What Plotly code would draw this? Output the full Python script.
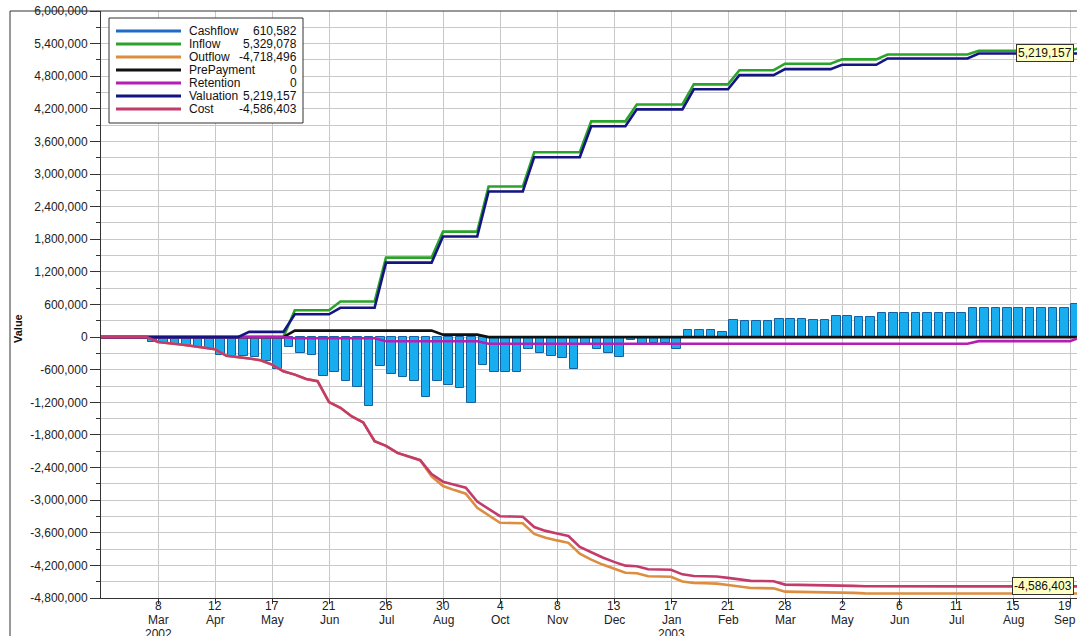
import pandas as pd
import plotly.graph_objects as go

# ---------------- data (weekly, Fridays) ----------------
line_start = "2002-02-01"          # first weekly point of the line series
bar_start = "2002-03-01"           # first weekly cash-flow bar (period start)

inflow = [
    0, 0, 0, 0, 0, 0, 0, 0, 0, 0, 0, 0, 0, 0, 0, 0, 0,
    495000, 495000, 495000, 495000,
    655000, 655000, 655000, 655000,
    1463000, 1463000, 1463000, 1463000, 1463000,
    1940000, 1940000, 1940000, 1940000,
    2770000, 2770000, 2770000, 2770000,
    3400000, 3400000, 3400000, 3400000, 3400000,
    3970000, 3970000, 3970000, 3970000,
    4280000, 4280000, 4280000, 4280000, 4280000,
    4650000, 4650000, 4650000, 4650000,
    4910000, 4910000, 4910000, 4910000,
    5030000, 5030000, 5030000, 5030000, 5030000,
    5110000, 5110000, 5110000, 5110000,
    5200000, 5200000, 5200000, 5200000, 5200000, 5200000, 5200000, 5200000,
    5268000, 5268000, 5268000, 5268000, 5268000, 5268000, 5268000, 5268000, 5268000,
    5329078,
]

valuation = [
    0, 0, 0, 0, 0, 0, 0, 0, 0, 0, 0, 0, 0,
    96000, 96000, 96000, 96000,
    420000, 420000, 420000, 420000,
    540000, 540000, 540000, 540000,
    1370000, 1370000, 1370000, 1370000, 1370000,
    1850000, 1850000, 1850000, 1850000,
    2680000, 2680000, 2680000, 2680000,
    3310000, 3310000, 3310000, 3310000, 3310000,
    3880000, 3880000, 3880000, 3880000,
    4190000, 4190000, 4190000, 4190000, 4190000,
    4560000, 4560000, 4560000, 4560000,
    4820000, 4820000, 4820000, 4820000,
    4930000, 4930000, 4930000, 4930000, 4930000,
    5010000, 5010000, 5010000, 5010000,
    5127000, 5127000, 5127000, 5127000, 5127000, 5127000, 5127000, 5127000,
    5219157, 5219157, 5219157, 5219157, 5219157, 5219157, 5219157, 5219157, 5219157,
    5219157,
]

prepayment = [
    0, 0, 0, 0, 0, 0, 0, 0, 0, 0, 0, 0, 0, 0, 0, 0, 0,
    120000, 120000, 120000, 120000, 120000, 120000, 120000, 120000, 120000,
    120000, 120000, 120000, 120000,
    46000, 46000, 46000, 46000,
    0, 0, 0, 0, 0, 0, 0, 0, 0, 0, 0, 0, 0, 0, 0, 0, 0, 0, 0, 0,
    0, 0, 0, 0, 0, 0, 0, 0, 0, 0, 0, 0, 0, 0, 0, 0, 0, 0, 0, 0,
    0, 0, 0, 0, 0, 0, 0, 0, 0, 0, 0, 0, 0,
]

retention = [
    0, 0, 0, 0, 0, 0, 0, 0, 0, 0, 0, 0, 0, 0, 0, 0, 0,
    -20000, -20000, -20000, -20000, -20000, -20000, -20000, -20000,
    -75000, -75000, -75000, -75000, -75000, -75000, -75000, -75000, -75000,
    -122000, -122000, -122000, -122000, -122000, -122000, -122000, -122000,
    -122000, -122000, -122000, -122000, -122000, -122000, -122000, -122000,
    -122000, -122000, -122000, -122000, -122000, -122000, -122000, -122000,
    -122000, -122000, -122000, -122000, -122000, -122000, -122000, -122000,
    -122000, -122000, -122000, -122000, -122000, -122000, -122000, -122000,
    -122000, -122000, -122000,
    -74000, -74000, -74000, -74000, -74000, -74000, -74000, -74000, -74000,
    0,
]

outflow = [
    0, 0, 0, 0, 0,
    -90000, -108000, -135000, -165000, -200000, -222000, -345000, -365000,
    -395000, -425000, -505000, -630000, -690000, -770000, -810000, -1195000,
    -1300000, -1460000, -1570000, -1915000, -2000000, -2130000, -2195000,
    -2265000, -2560000, -2740000, -2815000, -2880000, -3140000, -3280000,
    -3415000, -3420000, -3425000, -3620000, -3690000, -3740000, -3785000,
    -3985000, -4095000, -4185000, -4265000, -4335000, -4345000, -4400000,
    -4405000, -4410000, -4495000, -4525000, -4530000, -4535000, -4560000,
    -4590000, -4615000, -4618000, -4622000, -4683000, -4685000, -4688000,
    -4700000, -4702000, -4704000, -4706000, -4714000, -4716000, -4717000,
    -4718000, -4718000, -4718000, -4718000, -4718000, -4718000, -4718000,
    -4718000, -4718000, -4718000, -4718000, -4718000, -4718000, -4718000,
    -4718000, -4718000,
    -4718496,
]

cost = [
    0, 0, 0, 0, 0,
    -90000, -108000, -135000, -165000, -200000, -222000, -345000, -365000,
    -395000, -425000, -505000, -630000, -690000, -770000, -810000, -1195000,
    -1300000, -1460000, -1570000, -1915000, -2000000, -2130000, -2195000,
    -2265000, -2520000, -2660000, -2715000, -2770000, -3025000, -3160000,
    -3295000, -3300000, -3305000, -3495000, -3565000, -3615000, -3660000,
    -3860000, -3965000, -4055000, -4135000, -4205000, -4215000, -4270000,
    -4275000, -4280000, -4365000, -4395000, -4400000, -4405000, -4430000,
    -4460000, -4485000, -4488000, -4492000, -4553000, -4555000, -4558000,
    -4570000, -4572000, -4574000, -4576000, -4583000, -4585000, -4586000,
    -4586403, -4586403, -4586403, -4586403, -4586403, -4586403, -4586403,
    -4586403, -4586403, -4586403, -4586403, -4586403, -4586403, -4586403,
    -4586403, -4586403,
    -4586403,
]

cashflow = [
    -95000, -107000, -125000, -150000, -190000, -210000, -338000, -340000,
    -353000, -372000, -445000, -590000, -190000, -291000, -322000, -721000,
    -650000, -813000, -920000, -1273000, -537000, -675000, -740000, -805000,
    -1110000, -805000, -880000, -940000, -1205000, -506000, -647000, -647000,
    -647000, -218000, -291000, -340000, -383000, -595000, -123000, -215000,
    -294000, -368000, -61000, -123000, -110000, -110000, -215000, 123000,
    123000, 123000, 92000, 319000, 294000, 294000, 288000, 337000, 337000,
    337000, 319000, 319000, 387000, 387000, 368000, 368000,
    448000, 448000, 448000, 448000, 448000, 448000, 448000, 448000,
    540000, 540000, 540000, 540000, 540000, 540000, 540000, 540000, 540000,
    610582,
]

x_tick_dates = ["2002-03-08", "2002-04-12", "2002-05-17", "2002-06-21", "2002-07-26",
                "2002-08-30", "2002-10-04", "2002-11-08", "2002-12-13", "2003-01-17",
                "2003-02-21", "2003-03-28", "2003-05-02", "2003-06-06", "2003-07-11",
                "2003-08-15", "2003-09-19"]
x_tick_days = ["8", "12", "17", "21", "26", "30", "4", "8", "13", "17",
               "21", "28", "2", "6", "11", "15", "19"]
x_tick_months = ["Mar", "Apr", "May", "Jun", "Jul", "Aug", "Oct", "Nov", "Dec", "Jan",
                 "Feb", "Mar", "May", "Jun", "Jul", "Aug", "Sep"]
x_tick_years = ["2002", "", "", "", "", "", "", "", "", "2003",
                "", "", "", "", "", "", ""]
y_tick_values = [6000000, 5400000, 4800000, 4200000, 3600000, 3000000, 2400000,
                 1800000, 1200000, 600000, 0, -600000, -1200000, -1800000,
                 -2400000, -3000000, -3600000, -4200000, -4800000]
y_tick_labels = ["6,000,000", "5,400,000", "4,800,000", "4,200,000", "3,600,000",
                 "3,000,000", "2,400,000", "1,800,000", "1,200,000", "600,000", "0",
                 "-600,000", "-1,200,000", "-1,800,000", "-2,400,000", "-3,000,000",
                 "-3,600,000", "-4,200,000", "-4,800,000"]
y_minor_values = [5700000, 5100000, 4500000, 3900000, 3300000, 2700000, 2100000,
                  1500000, 900000, 300000, -300000, -900000, -1500000, -2100000,
                  -2700000, -3300000, -3900000, -4500000]

# ---------------- styling ----------------
FONT = "Liberation Sans, Arial, Helvetica, sans-serif"
W, H = 1077, 636
L, R, T, B = 101, 0, 11, 38
PW, PH = W - L - R, H - T - B

def px(xp):
    return (xp - L) / PW

def py(yp):
    return 1 - (yp - T) / PH

line_dates = pd.date_range(line_start, periods=len(inflow), freq="7D")
bar_dates = pd.date_range(bar_start, periods=len(cashflow), freq="7D")

series = [
    ("Cashflow", None, "#1F6BC6", cashflow[-1]),
    ("Inflow", inflow, "#2BA32B", inflow[-1]),
    ("Outflow", outflow, "#DC8D3F", outflow[-1]),
    ("PrePayment", prepayment, "#111111", prepayment[-1]),
    ("Retention", retention, "#B51DB5", retention[-1]),
    ("Valuation", valuation, "#141482", valuation[-1]),
    ("Cost", cost, "#C23B6B", cost[-1]),
]

fig = go.Figure()
DAY = 86400000
fig.add_trace(go.Bar(
    x=bar_dates, y=cashflow, name="Cashflow",
    xperiod=7 * DAY, xperiod0=bar_start, xperiodalignment="middle",
    width=5.2 * DAY,
    marker=dict(color="#18ADEE", line=dict(color="#15609E", width=1)),
    showlegend=False,
))
for name, vals, color, _ in series:
    if vals is None:
        continue
    fig.add_trace(go.Scatter(
        x=line_dates, y=vals, name=name, mode="lines",
        line=dict(color=color, width=2.6), showlegend=False,
    ))

shapes = []
annotations = []

# outer chart frame
shapes.append(dict(type="rect", xref="paper", yref="paper",
                   x0=px(10), x1=px(1200), y0=py(11), y1=py(800),
                   line=dict(color="#333333", width=1), fillcolor="rgba(0,0,0,0)",
                   layer="above"))

# custom legend box
shapes.append(dict(type="rect", xref="paper", yref="paper",
                   x0=px(109), x1=px(303), y0=py(18), y1=py(123),
                   line=dict(color="#333333", width=1), fillcolor="white",
                   layer="above"))
for i, (name, vals, color, last) in enumerate(series):
    yy = 31 + 13 * i
    shapes.append(dict(type="line", xref="paper", yref="paper",
                       x0=px(116), x1=px(181), y0=py(yy), y1=py(yy),
                       line=dict(color=color, width=3), layer="above"))
    annotations.append(dict(xref="paper", yref="paper", x=px(187), y=py(yy),
                            xanchor="left", yanchor="middle", text=name,
                            showarrow=False, font=dict(size=12, color="#111", family=FONT)))
    annotations.append(dict(xref="paper", yref="paper", x=px(299), y=py(yy),
                            xanchor="right", yanchor="middle", text=f"{last:,.0f}",
                            showarrow=False, font=dict(size=12, color="#111", family=FONT)))

# end-value labels
for val in (valuation[-1], cost[-1]):
    annotations.append(dict(xref="paper", yref="y", x=px(1074), y=val,
                            xanchor="right", yanchor="middle", text=f"{val:,.0f}",
                            showarrow=False, bgcolor="#FFFFC4", bordercolor="#333333",
                            borderwidth=1, borderpad=1,
                            font=dict(size=12, color="#111", family=FONT)))

# x tick labels (day / month / year rows, tightly stacked as in the reference)
n_ticks = len(x_tick_dates)
for i, (d, day, mon, yr) in enumerate(zip(x_tick_dates, x_tick_days, x_tick_months, x_tick_years)):
    shift = -5 if i == n_ticks - 1 else 0   # keep the last label inside the page
    for text, ypix in ((day, 606), (mon, 620), (yr, 634)):
        if not text:
            continue
        annotations.append(dict(xref="x", yref="paper", x=d, y=py(ypix),
                                xanchor="center", yanchor="middle", text=text,
                                showarrow=False, xshift=shift,
                                font=dict(size=12, color="#222", family=FONT)))

# y axis title
annotations.append(dict(xref="paper", yref="paper", x=px(18), y=py(329),
                        xanchor="center", yanchor="middle", text="<b>Value</b>",
                        textangle=-90, showarrow=False,
                        font=dict(size=11, color="#111", family=FONT)))

fig.update_layout(
    width=W, height=H, autosize=False,
    margin=dict(l=L, r=R, t=T, b=B, pad=0),
    paper_bgcolor="white", plot_bgcolor="white",
    font=dict(family=FONT, size=12, color="#222"),
    bargap=0,
    shapes=shapes, annotations=annotations,
    showlegend=False,
)
fig.update_xaxes(
    type="date", range=["2002-02-01", "2003-09-23 07:00"],
    tickmode="array", tickvals=x_tick_dates, showticklabels=False,
    ticks="outside", ticklen=5, tickcolor="#333",
    automargin=False,
    showgrid=True, gridcolor="#C9C9C9", gridwidth=1,
    showline=True, linecolor="#333", linewidth=1, zeroline=False,
)
fig.update_yaxes(
    range=[-4800000, 6000000],
    tickmode="array", tickvals=y_tick_values, ticktext=y_tick_labels,
    ticks="outside", ticklen=10, tickcolor="#333", tickfont=dict(size=12, color="#222"),
    ticklabeloverflow="allow", automargin=False,
    showgrid=True, gridcolor="#C9C9C9", gridwidth=1,
    minor=dict(tickmode="array", tickvals=y_minor_values, ticks="outside", ticklen=4,
               tickcolor="#333", showgrid=True, gridcolor="#C9C9C9", gridwidth=1),
    showline=True, linecolor="#333", linewidth=1, zeroline=False,
)

fig.write_html(
    "out.html",
    config={"displayModeBar": False},
    post_script="document.body.style.margin='0px';document.body.style.overflow='hidden';",
)
